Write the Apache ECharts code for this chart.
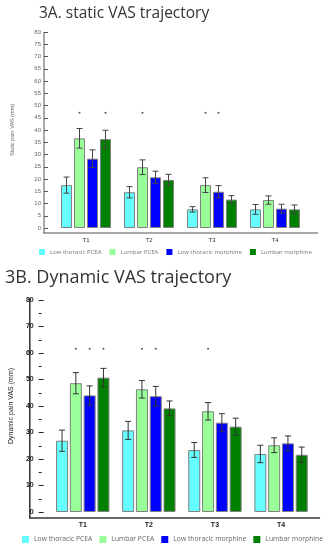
<!DOCTYPE html>
<html><head><meta charset="utf-8">
<script src="https://cdn.jsdelivr.net/npm/echarts@6/dist/echarts.min.js"></script>
<style>html,body{margin:0;padding:0;background:#fff}#c{width:333px;height:550px}</style>
</head><body><div id="c"></div>
<script>
var categories = ['T1', 'T2', 'T3', 'T4'];
var seriesNames = ['Low thoracic PCEA', 'Lumbar PCEA', 'Low thoracic morphine', 'Lumbar morphine'];
var seriesColors = ['#66ffff', '#99ff99', '#0000ff', '#008000'];

// 3A static VAS
var staticLowThoracicPCEA = [17.5, 14.6, 7.6, 7.6];
var staticLowThoracicPCEAErr = [3.3, 2.3, 1.1, 2.0];
var staticLumbarPCEA = [36.6, 24.8, 17.5, 11.4];
var staticLumbarPCEAErr = [4.0, 3.0, 3.0, 1.7];
var staticLowThoracicMorphine = [28.3, 20.7, 14.8, 7.9];
var staticLowThoracicMorphineErr = [3.6, 2.5, 2.5, 1.8];
var staticLumbarMorphine = [36.3, 19.6, 11.6, 7.6];
var staticLumbarMorphineErr = [3.6, 2.3, 1.6, 1.8];
var staticStars = [[0, 1], [0, 3], [1, 1], [2, 1], [2, 2]];
var staticStarLevel = 47;

// 3B dynamic VAS
var dynLowThoracicPCEA = [26.9, 30.8, 23.4, 21.9];
var dynLowThoracicPCEAErr = [4.0, 3.4, 2.8, 3.3];
var dynLumbarPCEA = [48.6, 46.3, 38.0, 25.2];
var dynLumbarPCEAErr = [4.0, 3.3, 3.3, 2.8];
var dynLowThoracicMorphine = [44.0, 43.7, 33.7, 25.9];
var dynLowThoracicMorphineErr = [3.6, 3.7, 3.4, 2.8];
var dynLumbarMorphine = [50.7, 39.1, 32.2, 21.6];
var dynLumbarMorphineErr = [3.5, 2.8, 3.2, 2.9];
var dynStars = [[0, 1], [0, 2], [0, 3], [1, 1], [1, 2], [2, 1]];
var dynStarLevel = 61.6;

var staticMeans = [staticLowThoracicPCEA, staticLumbarPCEA, staticLowThoracicMorphine, staticLumbarMorphine];
var staticErrs = [staticLowThoracicPCEAErr, staticLumbarPCEAErr, staticLowThoracicMorphineErr, staticLumbarMorphineErr];
var dynMeans = [dynLowThoracicPCEA, dynLumbarPCEA, dynLowThoracicMorphine, dynLumbarMorphine];
var dynErrs = [dynLowThoracicPCEAErr, dynLumbarPCEAErr, dynLowThoracicMorphineErr, dynLumbarMorphineErr];

// layout
var A = {left: 54.5, top: 32, width: 252, height: 196, barW: 11, gapPct: 0.18};
var B = {left: 40.8, top: 300, width: 273.3, height: 212, barW: 12, gapPct: 0.15};

function errData(means, errs) {
  var d = [];
  for (var s = 0; s < means.length; s++)
    for (var c = 0; c < means[s].length; c++)
      d.push([c, s, means[s][c] - errs[s][c], means[s][c] + errs[s][c]]);
  return d;
}
function starData(stars, level) {
  return stars.map(function (p) { return [p[0], p[1], level]; });
}
function errRender(L, color) {
  var step = L.barW * (1 + L.gapPct);
  return function (params, api) {
    var c = api.value(0), s = api.value(1);
    var lo = api.coord([c, api.value(2)]), hi = api.coord([c, api.value(3)]);
    var x = lo[0] + (s - 1.5) * step, cap = 3;
    var st = {stroke: color, lineWidth: 1};
    return {type: 'group', children: [
      {type: 'line', shape: {x1: x, y1: lo[1], x2: x, y2: hi[1]}, style: st},
      {type: 'line', shape: {x1: x - cap, y1: hi[1], x2: x + cap, y2: hi[1]}, style: st},
      {type: 'line', shape: {x1: x - cap, y1: lo[1], x2: x + cap, y2: lo[1]}, style: st}
    ]};
  };
}
function starRender(L) {
  var step = L.barW * (1 + L.gapPct);
  return function (params, api) {
    var p = api.coord([api.value(0), api.value(2)]);
    var x = p[0] + (api.value(1) - 1.5) * step;
    return {type: 'circle', shape: {cx: x, cy: p[1], r: 1}, style: {fill: '#555'}};
  };
}

var series = [];
function addChart(idx, L, means, errs, stars, level, errColor) {
  for (var s = 0; s < 4; s++) {
    series.push({
      type: 'bar', name: seriesNames[s], xAxisIndex: idx, yAxisIndex: idx,
      data: means[s], barWidth: L.barW, barGap: (L.gapPct * 100) + '%',
      itemStyle: {color: seriesColors[s], borderColor: '#808080', borderWidth: 1},
      emphasis: {disabled: true}, animation: false
    });
  }
  series.push({type: 'custom', xAxisIndex: idx, yAxisIndex: idx, data: errData(means, errs),
    renderItem: errRender(L, errColor), animation: false, z: 5});
  series.push({type: 'custom', xAxisIndex: idx, yAxisIndex: idx, data: starData(stars, level),
    renderItem: starRender(L), animation: false, z: 5});
}
addChart(0, A, staticMeans, staticErrs, staticStars, staticStarLevel, '#444');
addChart(1, B, dynMeans, dynErrs, dynStars, dynStarLevel, '#333');

var chart = echarts.init(document.getElementById('c'), null, {renderer: 'canvas'});
chart.setOption({
  backgroundColor: '#fff',
  animation: false,
  title: [
    {text: '3A. static VAS trajectory', left: 34, top: 1,
     textStyle: {fontFamily: 'Open Sans', fontSize: 15.5, fontWeight: 'normal', color: '#333'}},
    {text: '3B. Dynamic VAS trajectory', left: 0, top: 264,
     textStyle: {fontFamily: 'Open Sans', fontSize: 18, fontWeight: 'normal', color: '#333'}}
  ],
  legend: [
    {data: seriesNames, left: 39, top: 249, width: 300, padding: 0, itemWidth: 6, itemHeight: 6, itemGap: 8, itemTextGap: 2, icon: 'rect',
     itemStyle: {borderWidth: 0},
     textStyle: {fontFamily: 'Open Sans', fontSize: 6, color: '#777'}},
    {data: seriesNames, left: 22, top: 536, width: 320, padding: 0, itemWidth: 7, itemHeight: 7, itemGap: 7, itemTextGap: 2, icon: 'rect',
     itemStyle: {borderWidth: 0},
     textStyle: {fontFamily: 'Open Sans', fontSize: 6.8, color: '#666'}}
  ],
  grid: [
    {left: A.left, top: A.top, width: A.width, height: A.height},
    {left: B.left, top: B.top, width: B.width, height: B.height}
  ],
  xAxis: [
    {type: 'category', gridIndex: 0, data: categories, offset: 5,
     axisLine: {show: false}, axisTick: {alignWithLabel: true, length: 3, lineStyle: {color: '#555'}},
     axisLabel: {fontFamily: 'Liberation Sans', fontSize: 6, color: '#333', margin: 4}},
    {type: 'category', gridIndex: 1, data: categories, offset: 6,
     axisLine: {show: false}, axisTick: {alignWithLabel: true, length: 4, lineStyle: {color: '#222'}},
     axisLabel: {fontFamily: 'Liberation Sans', fontSize: 7, fontWeight: 'bold', color: '#222', margin: 4}}
  ],
  yAxis: [
    {type: 'value', gridIndex: 0, min: 0, max: 80, interval: 5, offset: 10.5,
     name: 'Static pain VAS (mm)', nameLocation: 'middle', nameGap: 29,
     nameTextStyle: {fontFamily: 'Liberation Sans', fontSize: 5.5, color: '#666'},
     axisLine: {show: false}, splitLine: {show: false},
     axisTick: {show: true, inside: true, length: 4, lineStyle: {color: '#555'}},
     axisLabel: {fontFamily: 'Liberation Sans', fontSize: 6, color: '#666', margin: 3}},
    {type: 'value', gridIndex: 1, min: 0, max: 80, interval: 10, offset: 11,
     name: 'Dynamic pain VAS (mm)', nameLocation: 'middle', nameGap: 19,
     nameTextStyle: {fontFamily: 'Liberation Sans', fontSize: 7, color: '#222'},
     axisLine: {show: false}, splitLine: {show: false},
     axisTick: {show: true, inside: true, length: 5, lineStyle: {color: '#222'}},
     minorTick: {show: true, splitNumber: 2, length: 3, lineStyle: {color: '#222'}},
     axisLabel: {fontFamily: 'Liberation Sans', fontSize: 7, fontWeight: 'bold', color: '#222', margin: 5}}
  ],
  graphic: [
    {type: 'line', shape: {x1: A.left - 11.5, y1: A.top + A.height + 5, x2: A.left + A.width + 11.5, y2: A.top + A.height + 5},
     style: {stroke: '#555', lineWidth: 1}},
    {type: 'line', shape: {x1: A.left - 10.5, y1: A.top, x2: A.left - 10.5, y2: A.top + A.height + 5},
     style: {stroke: '#555', lineWidth: 1}},
    {type: 'line', shape: {x1: B.left - 11.8, y1: B.top + B.height + 6, x2: B.left + B.width + 6, y2: B.top + B.height + 6},
     style: {stroke: '#333', lineWidth: 1.5}},
    {type: 'line', shape: {x1: B.left - 11, y1: B.top - 2, x2: B.left - 11, y2: B.top + B.height + 6},
     style: {stroke: '#333', lineWidth: 1.5}}
  ],
  series: series
});
</script></body></html>
